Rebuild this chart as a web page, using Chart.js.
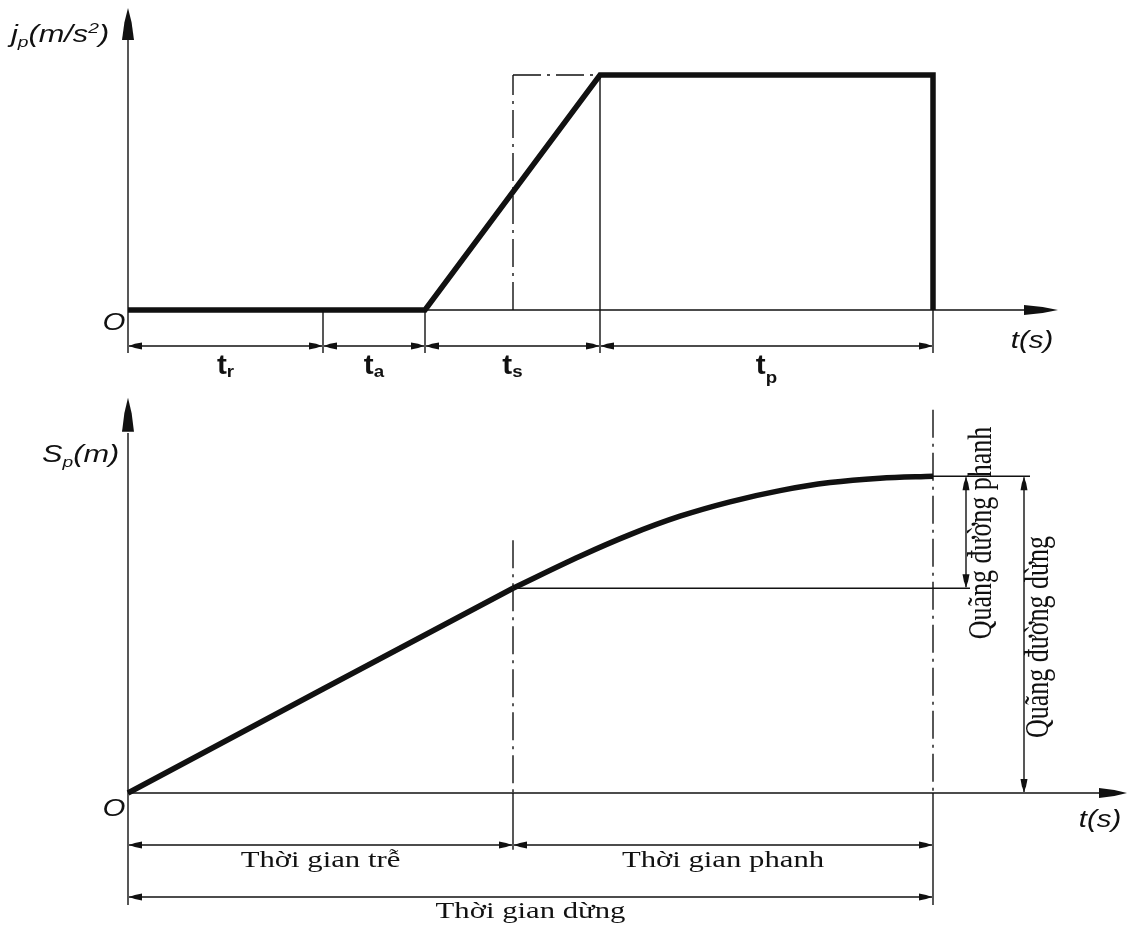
<!DOCTYPE html>
<html>
<head>
<meta charset="utf-8">
<script src="https://cdn.jsdelivr.net/npm/chart.js@4.4.1/dist/chart.umd.min.js"></script>
<style>
  html, body { margin: 0; padding: 0; background: #fff; }
  #wrap { position: relative; width: 1136px; height: 926px; }
</style>
</head>
<body>
<div id="wrap"><canvas id="brakeChart"></canvas></div>
<script>
// phase boundaries on the time axis (s)
const phaseEnds = [1.95, 2.97, 4.72, 8.05];   // end of t_r, t_a, t_s, t_p
const phaseNames = ['r', 'a', 's', 'p'];
const delayEnd = 3.85;                         // end of the delay time

// deceleration j_p
const jerkTime = [0, 1.95, 2.97, 4.72, 8.05, 8.05];
const jerkValue = [0, 0, 0, 1, 1, 0];

// distance S_p
const delayTime = [0, 1.95, 3.85];
const delayDist = [0, 13.0, 25.6];
const brakeTime = [3.85, 4.52, 5.02, 5.52, 6.02, 6.52, 7.02, 7.52, 8.05];
const brakeDist = [25.6, 29.6, 32.3, 34.6, 36.4, 37.8, 38.8, 39.35, 39.6];

const timeSpans = ['Thời gian trễ', 'Thời gian phanh', 'Thời gian dừng'];
const distSpans = ['Quãng đường phanh', 'Quãng đường dừng'];

const INK = '#111';
const DASH_DOT = [28, 6, 3, 6];
const SX = 1.28; // text in the drawing is a bit wide

function pts(xs, ys) {
    return xs.map((x, i) => ({ x: x, y: ys[i] }));
}

function seg(ctx, x1, y1, x2, y2, w, dash) {
    ctx.save();
    ctx.strokeStyle = INK;
    ctx.lineWidth = w || 1.4;
    ctx.setLineDash(dash || []);
    ctx.beginPath();
    ctx.moveTo(x1, y1);
    ctx.lineTo(x2, y2);
    ctx.stroke();
    ctx.restore();
}

function head(ctx, x, y, ang, len, half) {
    ctx.save();
    ctx.fillStyle = INK;
    ctx.translate(x, y);
    ctx.rotate(ang);
    ctx.beginPath();
    ctx.moveTo(0, 0);
    ctx.lineTo(-len * 0.45, -half * 0.6);
    ctx.lineTo(-len, -half);
    ctx.lineTo(-len, half);
    ctx.lineTo(-len * 0.45, half * 0.6);
    ctx.closePath();
    ctx.fill();
    ctx.restore();
}

function dim(ctx, x1, y1, x2, y2) {
    seg(ctx, x1, y1, x2, y2, 1.4);
    const a = Math.atan2(y2 - y1, x2 - x1);
    head(ctx, x2, y2, a, 13, 3.5);
    head(ctx, x1, y1, a + Math.PI, 13, 3.5);
}

function runs(ctx, x, y, parts, align, sx, rot) {
    let w = 0;
    parts.forEach(p => { ctx.font = p.font; w += ctx.measureText(p.text).width; });
    ctx.save();
    ctx.fillStyle = INK;
    ctx.translate(x, y);
    ctx.scale(sx || 1, 1);
    if (rot) ctx.rotate(rot);
    ctx.textAlign = 'left';
    ctx.textBaseline = 'alphabetic';
    let cx = align === 'center' ? -w / 2 : 0;
    parts.forEach(p => {
        ctx.font = p.font;
        ctx.fillText(p.text, cx, p.dy || 0);
        cx += ctx.measureText(p.text).width;
    });
    ctx.restore();
}

const IT = sz => 'italic ' + sz + 'px "Liberation Sans", Arial, sans-serif';
const BD = sz => 'bold ' + sz + 'px "Liberation Sans", Arial, sans-serif';
const SERIF = sz => sz + 'px "Liberation Serif", "Times New Roman", serif';

const drawingPlugin = {
    id: 'drawing',
    afterDatasetsDraw(chart) {
        const ctx = chart.ctx;
        const X = v => chart.scales.x.getPixelForValue(v);
        const J = v => chart.scales.yj.getPixelForValue(v);
        const S = v => chart.scales.ys.getPixelForValue(v);
        const tEnd = phaseEnds[phaseEnds.length - 1];
        const jTop = Math.max(...jerkValue);
        const sDelay = delayDist[delayDist.length - 1];
        const sStop = brakeDist[brakeDist.length - 1];

        // ---- upper diagram: j_p(t)
        seg(ctx, X(0), J(0), X(9.2), J(0));
        head(ctx, X(9.30), J(0), 0, 34, 5);
        seg(ctx, X(0), J(-0.183), X(0), J(1.2));
        head(ctx, X(0), J(1.285), -Math.PI / 2, 32, 6);

        // extension lines under the axis
        phaseEnds.forEach(t => {
            const top = t === phaseEnds[2] ? jTop : 0;
            seg(ctx, X(t), J(top), X(t), J(-0.183));
        });
        // dash-dot construction
        seg(ctx, X(delayEnd), J(0), X(delayEnd), J(jTop), 1.4, DASH_DOT);
        seg(ctx, X(delayEnd), J(jTop), X(phaseEnds[2]), J(jTop), 1.4, DASH_DOT);

        // phase dimensions
        let prev = 0;
        phaseEnds.forEach((t, i) => {
            dim(ctx, X(prev) + 1, J(-0.153), X(t) - 1, J(-0.153));
            const mid = X((prev + t) / 2);
            const sub = phaseNames[i];
            runs(ctx, mid, J(-0.272), [
                { text: 't', font: BD(27) },
                { text: sub, font: BD(17), dy: sub === 'p' ? 9 : 3 }
            ], 'center', 1.1);
            prev = t;
        });

        runs(ctx, X(-0.14), J(-0.085), [{ text: 'O', font: IT(23) }], 'center', SX);
        runs(ctx, X(9.04), J(-0.16), [{ text: 't(s)', font: IT(23) }], 'center', SX);
        runs(ctx, X(-1.17), J(1.14), [
            { text: 'j', font: IT(24) },
            { text: 'p', font: IT(15), dy: 5 },
            { text: '(m/s', font: IT(24) },
            { text: '2', font: IT(15), dy: -9 },
            { text: ')', font: IT(24) }
        ], 'left', SX);

        // ---- lower diagram: S_p(t)
        seg(ctx, X(0), S(0), X(9.9), S(0));
        head(ctx, X(9.99), S(0), 0, 28, 5);
        seg(ctx, X(0), S(-14), X(0), S(45));
        head(ctx, X(0), S(49.4), -Math.PI / 2, 34, 6);

        seg(ctx, X(delayEnd), S(31.6), X(delayEnd), S(0), 1.4, DASH_DOT);
        seg(ctx, X(delayEnd), S(0), X(delayEnd), S(-7.1));
        seg(ctx, X(tEnd), S(47.9), X(tEnd), S(0), 1.4, DASH_DOT);
        seg(ctx, X(tEnd), S(0), X(tEnd), S(-14));

        dim(ctx, X(0) + 1, S(-6.5), X(delayEnd) - 1, S(-6.5));
        dim(ctx, X(delayEnd) + 1, S(-6.5), X(tEnd) - 1, S(-6.5));
        dim(ctx, X(0) + 1, S(-13), X(tEnd) - 1, S(-13));
        runs(ctx, X(delayEnd / 2), S(-9.3), [{ text: timeSpans[0], font: SERIF(24) }], 'center', SX);
        runs(ctx, X((delayEnd + tEnd) / 2), S(-9.3), [{ text: timeSpans[1], font: SERIF(24) }], 'center', SX);
        runs(ctx, X(tEnd / 2), S(-15.6), [{ text: timeSpans[2], font: SERIF(24) }], 'center', SX);

        // distance leaders and dimensions
        seg(ctx, X(tEnd), S(sStop), X(9.02), S(sStop));
        seg(ctx, X(delayEnd), S(sDelay), X(8.42), S(sDelay));
        dim(ctx, X(8.38), S(sStop) + 1, X(8.38), S(sDelay) - 1);
        dim(ctx, X(8.96), S(sStop) + 1, X(8.96), S(0) - 1);
        runs(ctx, X(8.625), S(32.5), [{ text: distSpans[0], font: SERIF(26) }], 'center', SX, -Math.PI / 2);
        runs(ctx, X(9.20), S(19.5), [{ text: distSpans[1], font: SERIF(26) }], 'center', SX, -Math.PI / 2);

        runs(ctx, X(-0.14), S(-2.9), [{ text: 'O', font: IT(23) }], 'center', SX);
        runs(ctx, X(9.72), S(-4.2), [{ text: 't(s)', font: IT(23) }], 'center', SX);
        runs(ctx, X(-0.86), S(41.4), [
            { text: 'S', font: IT(24) },
            { text: 'p', font: IT(15), dy: 5 },
            { text: '(m)', font: IT(24) }
        ], 'left', SX);
    }
};

const lineStyle = {
    borderColor: INK,
    borderWidth: 5.5,
    pointRadius: 0,
    fill: false,
    borderCapStyle: 'butt',
    borderJoinStyle: 'miter'
};

const ctx = document.getElementById('brakeChart').getContext('2d');
const brakeChart = new Chart(ctx, {
    type: 'line',
    data: {
        datasets: [
            Object.assign({ label: 'j_p', data: pts(jerkTime, jerkValue), yAxisID: 'yj', tension: 0 }, lineStyle),
            Object.assign({ label: 'S_p delay', data: pts(delayTime, delayDist), yAxisID: 'ys', tension: 0 }, lineStyle),
            Object.assign({ label: 'S_p braking', data: pts(brakeTime, brakeDist), yAxisID: 'ys', cubicInterpolationMode: 'monotone' }, lineStyle)
        ]
    },
    options: {
        responsive: true,
        maintainAspectRatio: false,
        animation: false,
        layout: { padding: 0 },
        plugins: { legend: { display: false }, tooltip: { enabled: false } },
        scales: {
            x: { type: 'linear', min: -1.28, max: 10.08, display: false },
            yj: { type: 'linear', min: -2.6213, max: 1.3191, display: false },
            ys: { type: 'linear', min: -16.625, max: 99.125, display: false }
        }
    },
    plugins: [drawingPlugin]
});
</script>
</body>
</html>
